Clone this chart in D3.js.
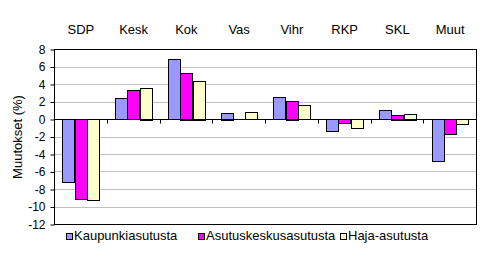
<!DOCTYPE html>
<html><head><meta charset="utf-8">
<script src="https://cdn.jsdelivr.net/npm/d3@7"></script>
<style>body{margin:0;background:#fff}svg{display:block}text{font-family:"Liberation Sans",Arial,sans-serif;fill:#000}</style>
</head><body><svg id="c" width="482" height="257"></svg>
<script>
const categories = ["SDP","Kesk","Kok","Vas","Vihr","RKP","SKL","Muut"];
const seriesNames = ["Kaupunkiasutusta","Asutuskeskusasutusta","Haja-asutusta"];
const kaupunki = [-7.2, 2.4, 6.8, 0.7, 2.5, -1.4, 1.0, -4.9];
const asutuskeskus = [-9.2, 3.3, 5.3, 0.0, 2.1, -0.5, 0.5, -1.8];
const haja = [-9.3, 3.6, 4.4, 0.8, 1.6, -1.1, 0.6, -0.6];
const yTicks = [8,6,4,2,0,-2,-4,-6,-8,-10,-12];
const colors = ["#9999FF","#FF00FF","#FFFFCC"];
const seriesValues = [kaupunki, asutuskeskus, haja];

const svg = d3.select("#c");
const L=54.5, R=476.5, T=49.5, B=224.5;
const y = d3.scaleLinear().domain([-12,8]).range([B,T]);
const x = d3.scaleBand().domain(categories).range([L,R]).padding(0);
const xs = d3.scaleBand().domain(d3.range(3)).range([0,x.bandwidth()]).paddingInner(0).paddingOuter(0.65);

// gridlines
svg.append("g").selectAll("line").data(yTicks.filter(t=>t!==8 && t!==-12 && t!==0)).join("line")
  .attr("x1",L).attr("x2",R).attr("y1",d=>Math.round(y(d)-0.5)+0.5).attr("y2",d=>Math.round(y(d)-0.5)+0.5)
  .attr("stroke","#C0C0C0");

// bars
const g = svg.append("g");
seriesValues.forEach((vals,si)=>{
  g.selectAll(null).data(vals.map((v,i)=>({v,c:categories[i]}))).join("rect")
    .filter(d=>d.v!==0)
    .attr("x",d=>Math.round(x(d.c)+xs(si))+0.5)
    .attr("width",Math.round(xs.bandwidth()))
    .attr("y",d=>Math.round(y(Math.max(0,d.v))-0.5)+0.5)
    .attr("height",d=>Math.abs(Math.round(y(d.v)) - Math.round(y(0))))
    .attr("fill",colors[si]).attr("stroke","#000").attr("stroke-width",1);
});

// zero line + category ticks
const y0 = Math.round(y(0)-0.5)+0.5;
svg.append("line").attr("x1",L).attr("x2",R).attr("y1",y0).attr("y2",y0).attr("stroke","#000");
svg.append("g").selectAll("line").data(categories.slice(1)).join("line")
  .attr("x1",d=>Math.round(x(d)-0.5)+0.5).attr("x2",d=>Math.round(x(d)-0.5)+0.5)
  .attr("y1",y0).attr("y2",y0+4).attr("stroke","#000");

// frame
svg.append("rect").attr("x",L).attr("y",T).attr("width",R-L).attr("height",B-T)
  .attr("fill","none").attr("stroke","#000");

// y axis
const yAxis = d3.axisLeft(y).tickValues(yTicks).tickSize(4).tickPadding(5).tickFormat(d=>d);
const ga = svg.append("g").attr("transform",`translate(${L},0)`).call(yAxis);
ga.select(".domain").remove();
ga.selectAll("line").attr("stroke","#000");
ga.selectAll("text").style("font-size","12px").style("font-family","'Liberation Sans',Arial,sans-serif").attr("fill","#000");

// category labels on top
svg.append("g").selectAll("text").data(categories).join("text")
  .attr("x",d=>x(d)+x.bandwidth()/2).attr("y",34).attr("text-anchor","middle")
  .style("font-size","13px").text(d=>d);

// y label
svg.append("text").attr("transform","translate(22,137) rotate(-90)").attr("text-anchor","middle")
  .style("font-size","13px").text("Muutokset (%)");

// legend
const legX = [66,198,340];
const lg = svg.append("g");
seriesNames.forEach((n,i)=>{
  lg.append("rect").attr("x",legX[i]+0.5).attr("y",233.5).attr("width",6).attr("height",6)
    .attr("fill",colors[i]).attr("stroke","#000");
  lg.append("text").attr("x",legX[i]+8).attr("y",240).style("font-size","13px").text(n);
});
</script></body></html>
